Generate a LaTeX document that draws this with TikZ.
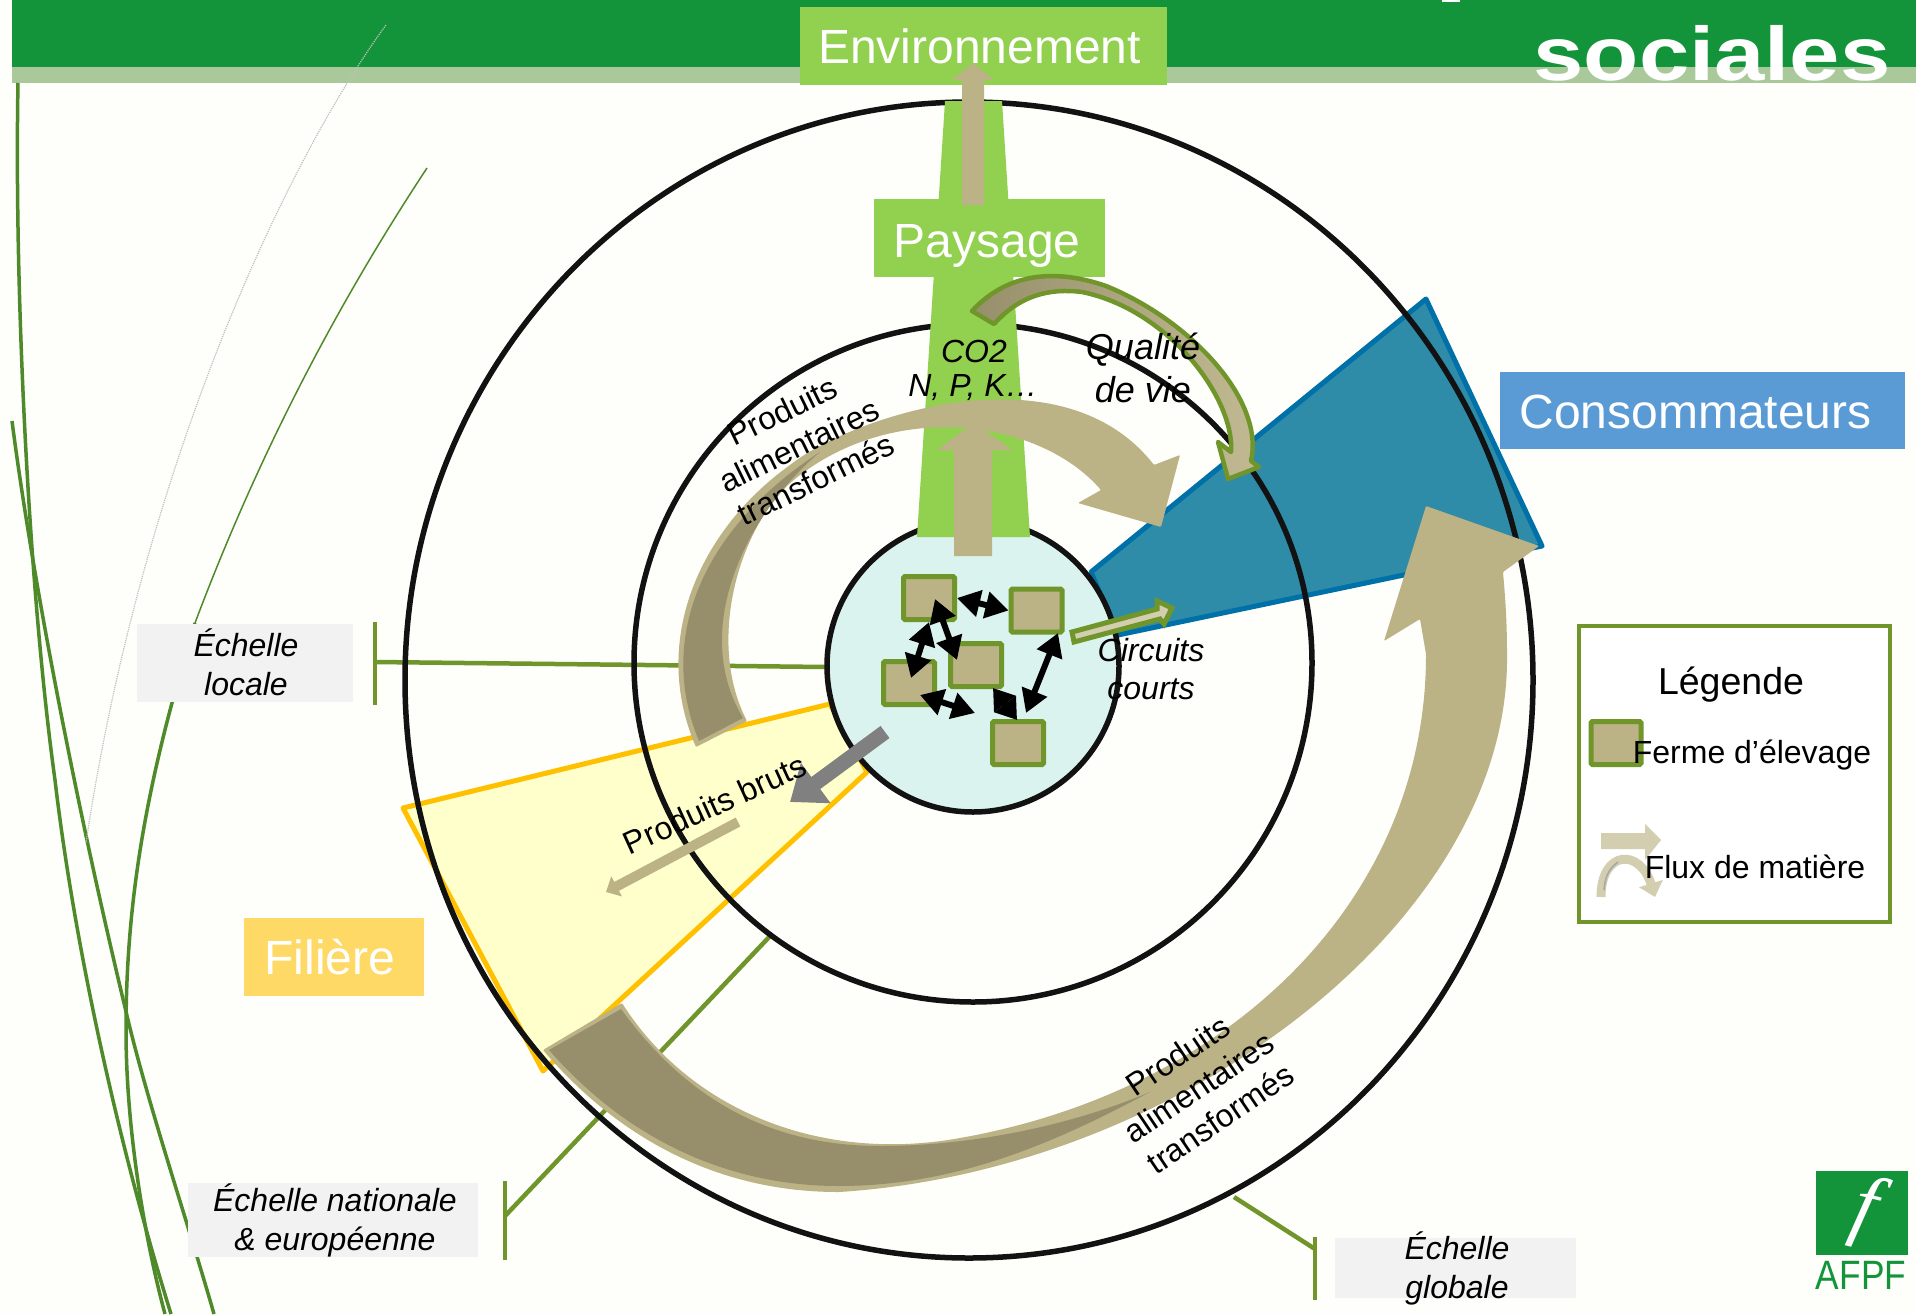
\documentclass[tikz,border=0pt]{standalone}
\usepackage{fontspec}
\setmainfont{Liberation Sans}
\newfontfamily\logofont{Liberation Serif}
\usetikzlibrary{arrows.meta}
\definecolor{headgreen}{HTML}{14943A}
\definecolor{headpale}{HTML}{A9C99A}
\definecolor{leafgreen}{HTML}{92D050}
\definecolor{olive}{HTML}{70952A}
\definecolor{bladegreen}{HTML}{4F8A2A}
\definecolor{fluxtan}{HTML}{BBB285}
\definecolor{fluxdark}{HTML}{978F6B}
\definecolor{fluxpale}{HTML}{D3CEB0}
\definecolor{consoblue}{HTML}{2E8CA9}
\definecolor{consoedge}{HTML}{0070A8}
\definecolor{consobox}{HTML}{5B9BD5}
\definecolor{filieredge}{HTML}{FFC000}
\definecolor{filierfill}{HTML}{FFFFCC}
\definecolor{filierbox}{HTML}{FFD966}
\definecolor{localfill}{HTML}{DAF3EE}
\definecolor{scalegrey}{HTML}{F2F2F2}
\definecolor{paper}{HTML}{FEFEFB}
\tikzset{
	titlebox/.style={fill=leafgreen, text=white, inner sep=0pt, font={\fontsize{48}{56}\selectfont}},
	farm/.style={draw=olive, fill=fluxtan, line width=5pt, rounded corners=1.5pt, minimum width=51pt, minimum height=43pt, inner sep=0pt},
	swap/.style={line width=6pt, {Triangle[length=23pt,width=26pt]}-{Triangle[length=23pt,width=26pt]}},
	ring/.style={draw=black!93, line width=5.5pt},
	scalebar/.style={draw=olive, line width=4.5pt},
	scalebox/.style={fill=scalegrey, inner sep=0pt},
	scaletext/.style={align=center, font={\fontsize{32}{39}\selectfont\itshape}},
	fluxtext/.style={align=center, font={\fontsize{32}{38}\selectfont}},
	blade/.style={draw=bladegreen, line width=3.5pt},
}
\begin{document}
\begin{tikzpicture}[x=1pt,y=-1pt]
	\useasboundingbox (0,0) rectangle (1916,1314);
	\clip (0,0) rectangle (1916,1314);
	\fill[paper] (0,0) rectangle (1916,1314);
	% bandeau
	\fill[headgreen] (12,0) rectangle (1916,67);
	\fill[headpale] (12,67) rectangle (1916,83);
	\fill[white] (1442,0) rectangle (1460,2);
	\node[text=white, inner sep=0pt, xscale=1.19, font={\fontsize{76}{90}\selectfont\bfseries}] (titre) at (1712,53) {sociales};

	% herbes
	\draw[blade] (18,83) .. controls (14,300) and (30,600) .. (55,780) .. controls (75,950) and (120,1150) .. (171,1314);
	\draw[blade] (12,421) .. controls (30,560) and (70,780) .. (129,1024) .. controls (150,1110) and (190,1230) .. (214,1314);
	\draw[blade, line width=1.5pt] (427,168) .. controls (340,300) and (260,450) .. (195,623);
	\draw[blade] (195,623) .. controls (150,770) and (126,890) .. (126,1030) .. controls (126,1130) and (145,1240) .. (165,1314);
	\draw[black!25, line width=1.2pt, densely dotted] (386,25) .. controls (280,170) and (140,480) .. (86,843);

	% secteurs
	\draw[draw=filieredge, fill=filierfill, line width=5pt, line join=round] (403,808) -- (830,704) -- (867,772) -- (543,1071) -- cycle;
	\draw[draw=consoedge, fill=consoblue, line width=5pt, line join=round] (1091,572) -- (1426,299) -- (1542,546) -- (1118,635) -- cycle;

	% echelles
	\coordinate (locTop) at (375,622);
	\coordinate (locBot) at (375,705);
	\coordinate (locJoin) at (375,662);
	\coordinate (locEnd) at (826,667);
	\draw[scalebar] (locTop) -- (locBot);
	\draw[scalebar] (locJoin) -- (locEnd);
	\coordinate (natTop) at (505,1181);
	\coordinate (natBot) at (505,1260);
	\coordinate (natJoin) at (505,1216);
	\coordinate (natEnd) at (772,934);
	\draw[scalebar] (natTop) -- (natBot);
	\draw[scalebar] (natJoin) -- (natEnd);
	\coordinate (gloTop) at (1315,1237);
	\coordinate (gloBot) at (1315,1300);
	\coordinate (gloJoin) at (1315,1249);
	\coordinate (gloEnd) at (1234,1197);
	\draw[scalebar] (gloTop) -- (gloBot);
	\draw[scalebar] (gloJoin) -- (gloEnd);

	% cercles
	\draw[ring] (969,680) ellipse (564pt and 578pt);
	\draw[ring] (973,663) ellipse (339pt and 339pt);
	\draw[ring, fill=localfill] (973,666) circle (146pt);

	% paysage et environnement
	\fill[leafgreen] (945,101) -- (1002,101) -- (1030,537) -- (917,537) -- cycle;
	\node[titlebox, minimum width=367pt, minimum height=78pt] (environnement) at (983.5,46) {\hspace{-8pt}Environnement};
	\node[titlebox, minimum width=231pt, text height=58pt, text depth=20pt] (paysage) at (989.5,238) {\hspace{-5pt}Paysage};
	\fill[fluxtan] (962,205) -- (962,80) -- (952,80) -- (973,63) -- (994,80) -- (984,80) -- (984,205) -- cycle;
	\fill[fluxtan] (954,556) -- (954,450) -- (937,450) -- (974,423) -- (1012,450) -- (992,450) -- (992,556) -- cycle;

	% flux
	\fill[fluxtan, rounded corners=1pt] (696,747) .. controls (650,640) and (700,530) .. (790,465) .. controls (850,418) and (1060,345) .. (1154,465) -- (1180,455) -- (1161,527) -- (1078,503) -- (1101,490) .. controls (1040,420) and (900,400) .. (800,475) .. controls (740,520) and (705,640) .. (747,721) -- cycle;
	\fill[fluxdark] (699,741) .. controls (657,640) and (700,530) .. (820,452) .. controls (745,515) and (690,630) .. (743,718) -- cycle;
	\fill[fluxtan, rounded corners=1pt] (543,1050) .. controls (620,1140) and (720,1192) .. (839,1192) .. controls (1180,1170) and (1510,920) .. (1507,654) .. controls (1507,620) and (1505,595) .. (1503,572) -- (1539,546) -- (1426,506) -- (1384,641) -- (1420,619) -- (1426,654) .. controls (1426,900) and (1230,1090) .. (960,1138) .. controls (820,1163) and (690,1110) .. (622,1003) -- cycle;
	\fill[fluxdark] (549,1050) .. controls (625,1137) and (725,1186) .. (839,1186) .. controls (960,1186) and (1060,1140) .. (1150,1092) .. controls (1060,1130) and (960,1146) .. (880,1146) .. controls (760,1146) and (680,1090) .. (621,1009) -- cycle;
	\path[draw=olive, line width=4.5pt, line join=round, left color=fluxdark, right color=fluxtan!70!fluxpale] (972,311) .. controls (1010,270) and (1060,270) .. (1106,286) .. controls (1190,320) and (1265,400) .. (1251,461) -- (1259,467) -- (1228,479) -- (1218,442) -- (1231,452) .. controls (1235,400) and (1170,310) .. (1082,292) .. controls (1050,288) and (1020,295) .. (994,324) -- cycle;
	\coordinate (brutA) at (885,732);
	\coordinate (brutB) at (790,802);
	\draw[black!50, line width=15pt, -{Triangle[length=32pt,width=48pt]}] (brutA) -- (brutB);
	\coordinate (brutC) at (738,822);
	\coordinate (brutD) at (606,892);
	\draw[fluxtan, line width=10pt, -{Triangle[length=12pt,width=22pt]}] (brutC) -- (brutD);
	\draw[draw=olive, fill=fluxpale, line width=5pt, line join=miter] (1072,632) -- (1157,609) -- (1157,601) -- (1172,608) -- (1164,624) -- (1160,619) -- (1074,642) -- cycle;

	% fermes
	\foreach \n/\x/\y in {farmA/929/598, farmB/1036.5/610.5, farmC/976/665, farmD/909/683, farmE/1018/743}
		\node[farm] (\n) at (\x,\y) {};
	\draw[swap] (farmA.east) -- (farmB.west);
	\draw[swap] ([shift={(6,1)}]farmA.center) -- ([shift={(-19,-5)}]farmC.center);
	\draw[swap] (farmA.south) -- ([shift={(2,-5)}]farmD.center);
	\draw[swap] ([shift={(21.5,22.5)}]farmB.center) -- ([shift={(8,-30)}]farmE.center);
	\draw[swap] ([shift={(11,12)}]farmD.center) -- ([shift={(-1,48)}]farmC.center);
	\draw[swap, line width=5pt, {Triangle[length=20pt,width=26pt]}-{Triangle[length=20pt,width=26pt]}] ([shift={(17,23)}]farmC.center) -- ([shift={(-1,-23)}]farmE.center);

	% boites
	\node[titlebox, fill=consobox, minimum width=405pt, text height=56.5pt, text depth=20.5pt] (conso) at (1702.5,410.5) {\hspace{-14pt}Consommateurs};
	\node[titlebox, fill=filierbox, minimum width=180pt, minimum height=78pt] (filiere) at (334,957) {\hspace{-8pt}Filière};

	\node[scalebox, minimum width=216pt, minimum height=78pt] (locBox) at (245,663) {};
	\node[scaletext] (locText) at (246,662) {Échelle\\locale};
	\node[scalebox, minimum width=290pt, minimum height=74pt] (natBox) at (333,1220) {};
	\node[scaletext] (natText) at (335,1220) {Échelle nationale\\\& européenne};
	\node[scalebox, minimum width=241pt, minimum height=60pt] (gloBox) at (1455.5,1268) {};
	\node[scaletext] (gloText) at (1457,1268) {Échelle\\globale};

	% textes
	\node[scaletext] (co2) at (974,351) {CO2};
	\node[scaletext] (npk) at (973,388) {N, P, K…};
	\node[scaletext, font={\fontsize{36}{43}\selectfont\itshape}] (qualite) at (1143,368) {Qualité\\de vie};
	\node[scaletext, font={\fontsize{32}{38}\selectfont\itshape}] (circuits) at (1151,669) {Circuits\\courts};
	\node[fluxtext, rotate=26] (transfoA) at (799,445) {Produits\\alimentaires\\transformés};
	\node[fluxtext, rotate=34] (transfoB) at (1199,1087) {Produits\\alimentaires\\transformés};
	\node[fluxtext, rotate=24.5] (bruts) at (715,804) {Produits bruts};

	% legende
	\draw[draw=olive, fill=white, line width=4.5pt] (1579,626) rectangle (1890,922);
	\node[font={\fontsize{37.5}{42}\selectfont}] (legende) at (1731,685) {Légende};
	\node[farm, minimum width=50pt, minimum height=43pt] (farmKey) at (1616,743) {};
	\node[font={\fontsize{32}{38}\selectfont}] (farmText) at (1752,755) {Ferme d’élevage};
	\fill[fluxpale] (1601,833) -- (1645,833) -- (1645,824) -- (1661,840) -- (1645,860) -- (1645,849) -- (1601,849) -- cycle;
	\coordinate (keyA) at (1601,897);
	\coordinate (keyB) at (1655,897);
	\draw[fluxpale, line width=9pt, -{Triangle[length=14pt,width=24pt]}] (keyA) .. controls (1601,850) and (1640,848) .. (keyB);
	\draw[black!35, line width=1.5pt] (1604,890) .. controls (1605,875) and (1610,868) .. (1618,862);
	\node[font={\fontsize{32}{38}\selectfont}] (fluxText) at (1755,867) {Flux de matière};

	% logo
	\fill[headgreen] (1816,1171) rectangle (1908,1255);
	\node[text=white, inner sep=0pt, rotate=-14, font={\fontsize{82}{90}\selectfont\logofont\itshape}] (logoF) at (1864,1212) {f};
	\node[text=headgreen, inner sep=0pt, xscale=.86, font={\fontsize{41}{46}\selectfont}] (logoText) at (1861,1275) {AFPF};
\end{tikzpicture}
\end{document}
